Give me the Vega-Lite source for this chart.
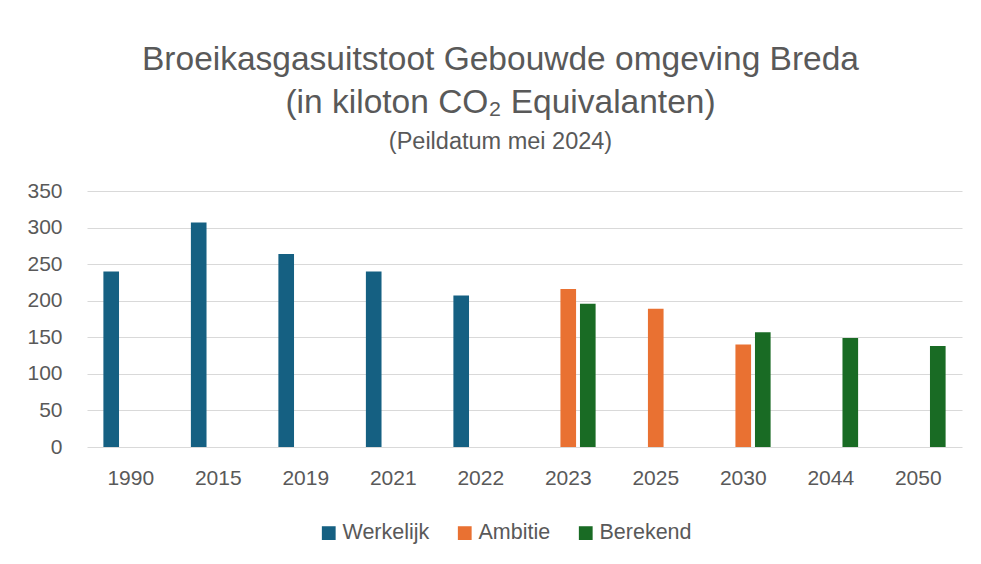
{
  "$schema": "https://vega.github.io/schema/vega-lite/v6.json",
  "autosize": "none",
  "width": 875,
  "height": 256,
  "padding": {"left": 87, "top": 191, "right": 19, "bottom": 117},
  "background": "white",
  "config": {
    "view": {"stroke": null},
    "font": "Liberation Sans"
  },
  "title": {
    "text": ["Broeikasgasuitstoot Gebouwde omgeving Breda", "(in kiloton CO₂ Equivalanten)"],
    "subtitle": "(Peildatum mei 2024)",
    "anchor": "middle",
    "dx": -24,
    "font": "Liberation Sans",
    "fontSize": 33.5,
    "fontWeight": "normal",
    "color": "#595959",
    "lineHeight": 43,
    "subtitleFont": "Liberation Sans",
    "subtitleFontSize": 23.5,
    "subtitleColor": "#595959",
    "subtitlePadding": 9,
    "offset": 26
  },
  "data": {
    "values": [
      {"jaar": "1990", "reeks": "Werkelijk", "waarde": 240},
      {"jaar": "2015", "reeks": "Werkelijk", "waarde": 307},
      {"jaar": "2019", "reeks": "Werkelijk", "waarde": 264},
      {"jaar": "2021", "reeks": "Werkelijk", "waarde": 240},
      {"jaar": "2022", "reeks": "Werkelijk", "waarde": 207},
      {"jaar": "2023", "reeks": "Ambitie", "waarde": 216},
      {"jaar": "2023", "reeks": "Berekend", "waarde": 196},
      {"jaar": "2025", "reeks": "Ambitie", "waarde": 189},
      {"jaar": "2030", "reeks": "Ambitie", "waarde": 140},
      {"jaar": "2030", "reeks": "Berekend", "waarde": 157},
      {"jaar": "2044", "reeks": "Berekend", "waarde": 149},
      {"jaar": "2050", "reeks": "Berekend", "waarde": 138}
    ]
  },
  "mark": {"type": "bar"},
  "encoding": {
    "x": {
      "field": "jaar",
      "type": "nominal",
      "sort": null,
      "scale": {"paddingInner": 0.33, "paddingOuter": 0.165},
      "axis": {
        "title": null,
        "labelAngle": 0,
        "labelFont": "Liberation Sans",
        "labelFontSize": 21,
        "labelColor": "#595959",
        "labelPadding": 20,
        "ticks": false,
        "domain": false,
        "grid": false
      }
    },
    "xOffset": {
      "field": "reeks",
      "type": "nominal",
      "sort": ["Werkelijk", "Ambitie", "Berekend"],
      "scale": {"domain": ["Werkelijk", "Ambitie", "Berekend"], "paddingInner": 0.2, "paddingOuter": 0.1}
    },
    "y": {
      "field": "waarde",
      "type": "quantitative",
      "scale": {"domain": [0, 350], "nice": false},
      "axis": {
        "title": null,
        "values": [0, 50, 100, 150, 200, 250, 300, 350],
        "labelFont": "Liberation Sans",
        "labelFontSize": 21,
        "labelColor": "#595959",
        "labelPadding": 25,
        "ticks": false,
        "domain": false,
        "grid": true,
        "gridColor": "#d9d9d9",
        "gridWidth": 1.2
      }
    },
    "color": {
      "field": "reeks",
      "type": "nominal",
      "scale": {"domain": ["Werkelijk", "Ambitie", "Berekend"], "range": ["#156082", "#E97132", "#196B24"]},
      "legend": {
        "title": null,
        "orient": "none",
        "direction": "horizontal",
        "legendX": 231,
        "legendY": 331,
        "symbolType": "square",
        "symbolSize": 190,
        "symbolStrokeWidth": 0,
        "labelFont": "Liberation Sans",
        "labelFontSize": 21.5,
        "labelColor": "#595959",
        "labelOffset": 3,
        "columnPadding": 24
      }
    }
  }
}
